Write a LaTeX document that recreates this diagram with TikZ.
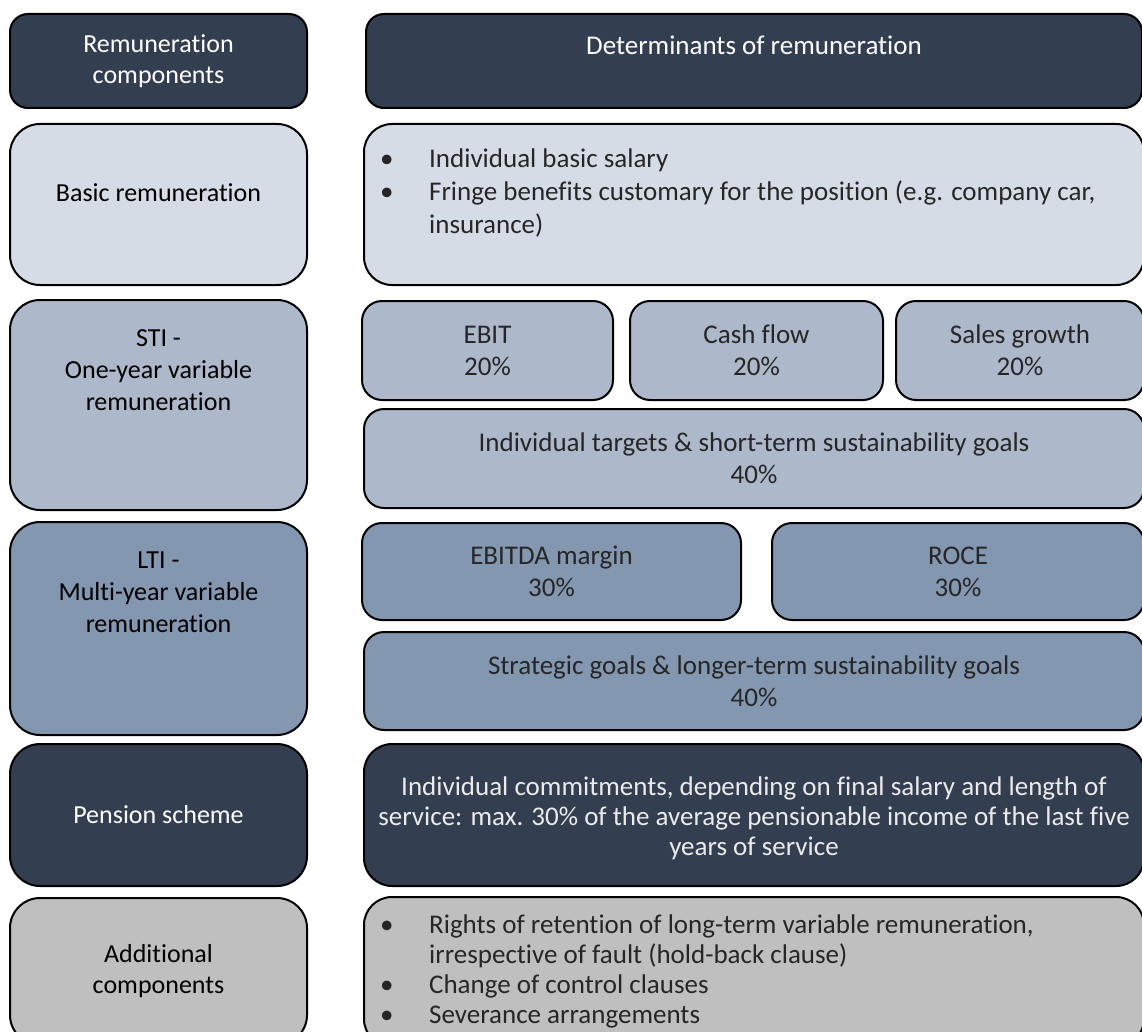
\documentclass[tikz,border=0pt]{standalone}
\usepackage{fontspec}
\setmainfont{Carlito}[Ligatures={NoCommon}]

% Farben der Zeilen
\definecolor{dunkel}{RGB}{51,62,80}
\definecolor{hell}{RGB}{214,220,229}
\definecolor{mittel}{RGB}{173,185,202}
\definecolor{blaugrau}{RGB}{132,151,176}
\definecolor{grau}{RGB}{191,191,191}

% Aufzaehlungspunkt mit fester Einrueckung
\newcommand{\punkt}{\makebox[49pt][l]{\textbullet}}

\begin{document}
\begin{tikzpicture}[x=1pt,y=-1pt]
				% Einstellungen für die Kästchen
				\tikzset{box/.style={
						draw=black, % Schwarze Umrandung
						line width=2pt, % Dicke Linie
						rounded corners=20pt, % Abgerundete Ecken
						inner sep=0pt, % Kein Innenabstand
						text=black!85, % Textfarbe
						align=center, % Text zentrieren
						font=\fontsize{27}{32}\selectfont % Schriftgröße
				}}
				\tikzset{links/.style={box, rounded corners=30pt, minimum width=297pt, text=black, font=\fontsize{26}{31}\selectfont}}
				\tikzset{rechts/.style={box, minimum width=780pt}}
				\tikzset{txt/.style={inner sep=0pt, align=center, font=\fontsize{27}{32}\selectfont}}
				\tikzset{txtL/.style={txt, font=\fontsize{26}{32}\selectfont}}
				
				% Seitenrahmen festlegen
				\useasboundingbox (0,0) rectangle (1142,1032);
				
				% Kopfzeile
				\node[links, fill=dunkel, text=white, rounded corners=18pt, minimum height=94pt] (kopfL) at (158.5,61) {Remuneration\\components};
				\node[box, fill=dunkel, rounded corners=18pt, minimum width=776pt, minimum height=94pt] (kopfR) at (754,61) {};
				\node[txt, text=white] (kopfRtext) at ([yshift=16pt]kopfR.center) {Determinants of remuneration};
				
				% Grundvergütung
				\node[links, fill=hell, minimum height=161pt] (basisL) at (158.5,204.5) {};
				\node[txtL] (basisLtext) at ([yshift=12pt]basisL.center) {Basic remuneration};
				\node[rechts, fill=hell, rounded corners=28pt, minimum height=161pt] (basisR) at (754,204.5) {};
				\node[txt, text=black!85, anchor=north west, align=left, font=\fontsize{27}{33}\selectfont] (basisRtext) at ([xshift=17pt,yshift=-26pt]basisR.north west)
				{\punkt Individual basic salary\\
				 \punkt Fringe benefits customary for the position (e.g. company car,\\
				 \hspace*{49pt}insurance)};
				
				% STI - einjährige variable Vergütung
				\node[links, fill=mittel, minimum height=210pt] (stiL) at (158.5,405) {};
				\node[txtL, anchor=north] (stiLtext) at ([yshift=-30pt]stiL.north) {STI -\\One-year variable\\remuneration};
				\foreach \name/\x/\w/\wert in {ebit/487.5/251/EBIT, cash/756.5/253/Cash flow, sales/1020/248/Sales growth} {
					\node[box, fill=mittel, minimum width=\w pt, minimum height=99pt] (\name) at (\x,350.5) {\wert\\20\%};
				}
				\node[rechts, fill=mittel, minimum height=99pt] (stiZiele) at (754,458.5) {Individual targets \& short-term sustainability goals\\40\%};
				
				% LTI - mehrjährige variable Vergütung
				\node[links, fill=blaugrau, minimum height=213pt] (ltiL) at (158.5,628.5) {};
				\node[txtL, anchor=north] (ltiLtext) at ([yshift=-31pt]ltiL.north) {LTI -\\Multi-year variable\\remuneration};
				\node[box, fill=blaugrau, minimum width=379pt, minimum height=97pt] (ebitda) at (551.5,571.5) {EBITDA margin\\30\%};
				\node[box, fill=blaugrau, minimum width=372pt, minimum height=97pt] (roce) at (958,571.5) {ROCE\\30\%};
				\node[rechts, fill=blaugrau, minimum height=98pt] (ltiZiele) at (754,681) {Strategic goals \& longer-term sustainability goals\\40\%};
				
				% Altersversorgung
				\node[links, fill=dunkel, text=white, minimum height=142pt] (pensionL) at (158.5,815) {Pension scheme};
				\node[rechts, fill=dunkel, rounded corners=28pt, minimum height=142pt] (pensionR) at (754,815) {};
				\node[txt, text=white!92!black, font=\fontsize{27}{30}\selectfont] (pensionRtext) at ([yshift=-3pt]pensionR.center)
				{Individual commitments, depending on final salary and length of\\
				 service: max. 30\% of the average pensionable income of the last five\\
				 years of service};
				
				% Weitere Bestandteile
				\node[links, fill=grau, minimum height=147pt] (weitereL) at (158.5,971.5) {Additional\\components};
				\node[rechts, fill=grau, rounded corners=28pt, minimum height=150pt] (weitereR) at (754,972) {};
				\node[txt, text=black!85, anchor=north west, align=left, font=\fontsize{27}{30}\selectfont] (weitereRtext) at ([xshift=17pt,yshift=-19pt]weitereR.north west)
				{\punkt Rights of retention of long-term variable remuneration,\\
				 \hspace*{49pt}irrespective of fault (hold-back clause)\\
				 \punkt Change of control clauses\\
				 \punkt Severance arrangements};
			\end{tikzpicture}
\end{document}
